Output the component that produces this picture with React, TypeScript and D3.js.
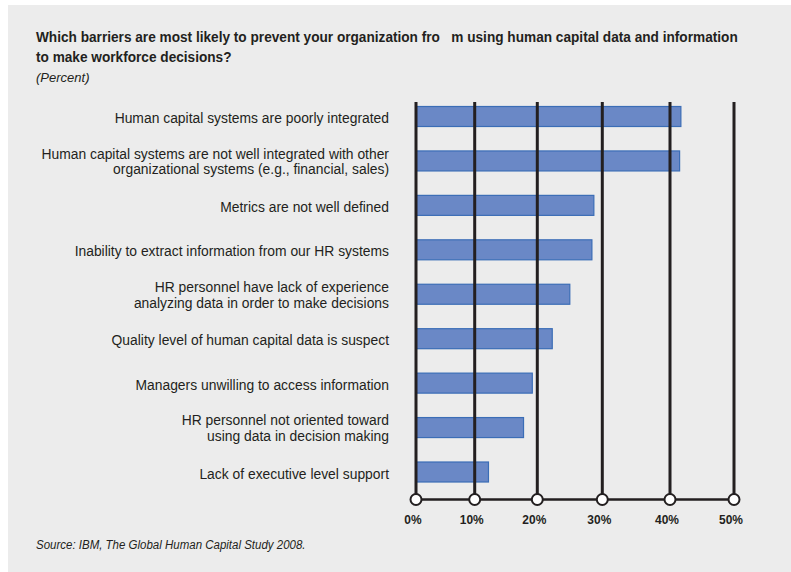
import React from "react";
import * as d3 from "d3";

const categories: string[][] = [
  ["Human capital systems are poorly integrated"],
  ["Human capital systems are not well integrated with other", "organizational systems (e.g., financial, sales)"],
  ["Metrics are not well defined"],
  ["Inability to extract information from our HR systems"],
  ["HR personnel have lack of experience", "analyzing data in order to make decisions"],
  ["Quality level of human capital data is suspect"],
  ["Managers unwilling to access information"],
  ["HR personnel not oriented toward", "using data in decision making"],
  ["Lack of executive level support"],
];
const values: number[] = [41.7, 41.5, 28.7, 28.4, 25.0, 22.3, 19.2, 17.8, 12.2];
const tickValues: number[] = [0, 10, 20, 30, 40, 50];
const tickLabels: string[] = ["0%", "10%", "20%", "30%", "40%", "50%"];
const titleLines: string[] = [
  "Which barriers are most likely to prevent your organization fro   m using human capital data and information",
  "to make workforce decisions?",
];
const subtitle = "(Percent)";
const source = "Source: IBM, The Global Human Capital Study 2008.";

const W = 791;
const H = 572;
const FONT = "'Liberation Sans', Arial, sans-serif";

function NText(props: {
  x: number;
  y: number;
  s: number;
  children: React.ReactNode;
  [k: string]: any;
}) {
  const { x, y, s, children, ...rest } = props;
  return (
    <text transform={`translate(${x},${y}) scale(${s},1)`} x={0} y={0} {...rest}>
      {children}
    </text>
  );
}

export default function App() {
  const x = d3
    .scaleLinear()
    .domain(tickValues)
    .range([416, 474.7, 537.3, 602.3, 670, 734]);
  const ids = categories.map((_, i) => String(i));
  const y = d3.scalePoint<string>().domain(ids).range([116.5, 472]);
  const barH = 20;
  const gridTop = 102;
  const axisY = 499.5;
  const ink = "#231f20";

  return (
    <svg
      width={W}
      height={H}
      style={{ position: "absolute", left: 0, top: 0 }}
      fontFamily={FONT}
    >
      <rect x={0} y={0} width={W} height={H} fill="#ffffff" />
      <rect x={8} y={5} width={W - 8} height={H - 5} fill="#ececec" />

      {titleLines.map((t, i) => (
        <NText
          key={i}
          x={36}
          y={42 + i * 20}
          s={0.91}
          fontSize={15}
          fontWeight="bold"
          fill={ink}
          style={{ whiteSpace: "pre" }}
        >
          {t}
        </NText>
      ))}
      <text x={36} y={82} fontSize={13} fontStyle="italic" fill={ink}>
        {subtitle}
      </text>

      {/* bars */}
      {values.map((v, i) => (
        <rect
          key={i}
          x={x(0)}
          y={(y(ids[i]) as number) - barH / 2}
          width={x(v) - x(0)}
          height={barH}
          fill="#6a88c6"
          stroke="#3b6db6"
          strokeWidth={1.2}
        />
      ))}

      {/* gridlines */}
      {tickValues.map((t) => (
        <line
          key={t}
          x1={x(t)}
          x2={x(t)}
          y1={gridTop}
          y2={axisY}
          stroke={ink}
          strokeWidth={3}
        />
      ))}
      <line x1={x(0)} x2={x(50)} y1={axisY} y2={axisY} stroke={ink} strokeWidth={2.5} />
      {tickValues.map((t) => (
        <circle key={t} cx={x(t)} cy={axisY} r={5.5} fill="#ffffff" stroke={ink} strokeWidth={2} />
      ))}
      {tickValues.map((t, i) => (
        <NText
          key={t}
          x={x(t) - 3}
          y={523.5}
          s={0.92}
          fontSize={13}
          fontWeight="bold"
          textAnchor="middle"
          fill={ink}
        >
          {tickLabels[i]}
        </NText>
      ))}

      {/* category labels */}
      {categories.map((lines, i) => {
        const cy = y(ids[i]) as number;
        const n = lines.length;
        return lines.map((l, j) => (
          <NText
            key={`${i}-${j}`}
            x={389}
            y={cy + 6.5 + (j - (n - 1) / 2) * 15.5 - (n > 1 ? 1 : 0)}
            s={0.925}
            fontSize={15}
            textAnchor="end"
            fill={ink}
          >
            {l}
          </NText>
        ));
      })}

      <NText x={36} y={549} s={0.92} fontSize={12.5} fontStyle="italic" fill={ink}>
        {source}
      </NText>
    </svg>
  );
}
